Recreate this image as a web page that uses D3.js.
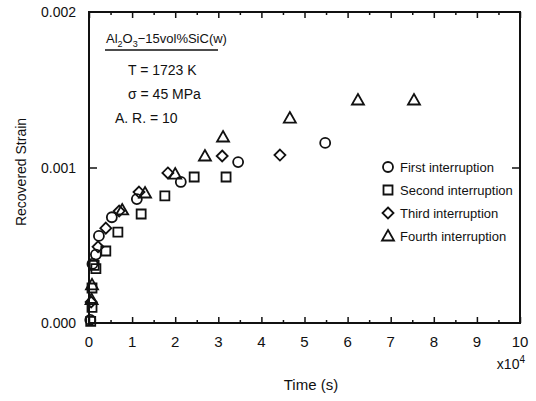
<!DOCTYPE html>
<html>
<head>
<meta charset="utf-8">
<script src="https://cdn.jsdelivr.net/npm/d3@7"></script>
<style>
  body { margin: 0; background: #fff; }
  svg text { font-family: "Liberation Sans", Arial, sans-serif; fill: #111; }
</style>
</head>
<body>
<div class="plot"></div>
<script>
// Data: time in units of 1e4 s, recovered strain
const firstTime   = [0.03, 0.08, 0.16, 0.23, 0.53, 1.11, 2.13, 3.46, 5.48];
const firstStrain = [0.00002, 0.00038, 0.00044, 0.00056, 0.00068, 0.000797, 0.000907, 0.001035, 0.001158];

const secondTime   = [0.04, 0.07, 0.07, 0.12, 0.16, 0.39, 0.67, 1.21, 1.76, 2.44, 3.18];
const secondStrain = [0.00001, 0.0001, 0.000225, 0.00037, 0.00035, 0.000463, 0.000585, 0.000701, 0.000817, 0.000939, 0.000939];

const thirdTime   = [0.05, 0.21, 0.39, 0.70, 1.16, 1.83, 3.09, 4.43];
const thirdStrain = [0.000135, 0.00049, 0.00061, 0.00072, 0.000842, 0.000965, 0.001074, 0.00108];

const fourthTime   = [0.06, 0.07, 0.77, 1.30, 2.00, 2.69, 3.11, 4.66, 6.24, 7.54];
const fourthStrain = [0.00015, 0.000245, 0.000727, 0.000836, 0.000958, 0.001074, 0.001196, 0.001318, 0.001434, 0.001434];

const seriesNames = ["First interruption", "Second interruption", "Third interruption", "Fourth interruption"];
const seriesShapes = ["circle", "square", "diamond", "triangle"];
const xTicks = [0, 1, 2, 3, 4, 5, 6, 7, 8, 9, 10];
const yTicks = [0, 0.001, 0.002];

const seriesData = [
  d3.zip(firstTime, firstStrain),
  d3.zip(secondTime, secondStrain),
  d3.zip(thirdTime, thirdStrain),
  d3.zip(fourthTime, fourthStrain)
];

const margin = {top: 12, right: 16, bottom: 78, left: 89};
const W = 536, H = 401;
const w = W - margin.left - margin.right;
const h = H - margin.top - margin.bottom;

const svg = d3.select(".plot").append("svg")
    .attr("width", W)
    .attr("height", H);
const g = svg.append("g")
    .attr("transform", "translate(" + margin.left + "," + margin.top + ")");

const x = d3.scaleLinear().domain([0, 10]).range([0, w]);
const y = d3.scaleLinear().domain([0, 0.002]).range([h, 0]);

// symbol paths
const shapePath = {
  circle: "M5,0A5,5 0 1,1 -5,0A5,5 0 1,1 5,0Z",
  square: "M-4.5,-4.5H4.5V4.5H-4.5Z",
  diamond: "M0,-5.5L5.5,0L0,5.5L-5.5,0Z",
  triangle: "M0,-6L6,4.5H-6Z"
};

// axes: major ticks at integers, minor at halves
const minorX = d3.range(0.5, 10, 1);
const addTicks = function(axis, pos) {
  const a = g.append("g").attr("transform", pos).call(axis);
  a.select(".domain").remove();
  a.selectAll("line").attr("stroke", "#111").attr("stroke-width", 1.5);
  return a;
};
addTicks(d3.axisBottom(x).tickValues(xTicks).tickSize(-6).tickFormat(""), "translate(0," + h + ")");
addTicks(d3.axisBottom(x).tickValues(minorX).tickSize(-3).tickFormat(""), "translate(0," + h + ")");
addTicks(d3.axisTop(x).tickValues(xTicks).tickSize(-6).tickFormat(""), "translate(0,0)");
addTicks(d3.axisTop(x).tickValues(minorX).tickSize(-3).tickFormat(""), "translate(0,0)");
addTicks(d3.axisLeft(y).tickValues([0.001]).tickSize(-8).tickFormat(""), "translate(0,0)");
addTicks(d3.axisRight(y).tickValues([0.001]).tickSize(-8).tickFormat(""), "translate(" + w + ",0)");

// tick labels
g.selectAll(".xlab").data(xTicks).enter().append("text")
    .attr("x", d => x(d))
    .attr("y", h + 24)
    .attr("text-anchor", "middle")
    .style("font-size", "15px")
    .text(d => d);
g.selectAll(".ylab").data(yTicks).enter().append("text")
    .attr("x", -13)
    .attr("y", d => y(d) + 5)
    .attr("text-anchor", "end")
    .style("font-size", "14px")
    .text(d => d3.format(".3f")(d));

// frame
g.append("rect")
    .attr("width", w).attr("height", h)
    .attr("fill", "none")
    .attr("stroke", "#111")
    .attr("stroke-width", 2);

// axis titles
const x10 = g.append("text")
    .attr("x", w + 5)
    .attr("y", h + 46)
    .attr("text-anchor", "end")
    .style("font-size", "14px");
x10.append("tspan").text("x10");
x10.append("tspan").attr("dy", -6).style("font-size", "10px").text("4");

g.append("text")
    .attr("x", x(5.15))
    .attr("y", h + 67)
    .attr("text-anchor", "middle")
    .style("font-size", "15px")
    .text("Time (s)");

svg.append("text")
    .attr("transform", "translate(26,172) rotate(-90)")
    .attr("text-anchor", "middle")
    .style("font-size", "14px")
    .text("Recovered Strain");

// annotation
const note = g.append("g").attr("transform", "translate(17,0)");
const t1 = note.append("text").attr("y", 31).style("font-size", "13px");
t1.append("tspan").text("Al");
t1.append("tspan").attr("dy", 4).style("font-size", "9px").text("2");
t1.append("tspan").attr("dy", -4).text("O");
t1.append("tspan").attr("dy", 4).style("font-size", "9px").text("3");
t1.append("tspan").attr("dy", -4).text("\u221215vol%SiC(w)");
note.append("line")
    .attr("x1", -1).attr("x2", 112)
    .attr("y1", 38).attr("y2", 38)
    .attr("stroke", "#111").attr("stroke-width", 1.5);
note.append("text").attr("x", 22).attr("y", 63).style("font-size", "14px").text("T = 1723 K");
note.append("text").attr("x", 22).attr("y", 87).style("font-size", "14px").text("\u03c3 = 45 MPa");
note.append("text").attr("x", 9).attr("y", 111).style("font-size", "14px").text("A. R. = 10");

// data points
seriesData.forEach(function(data, i) {
  g.selectAll(".s" + i).data(data).enter().append("path")
      .attr("class", "s" + i)
      .attr("transform", d => "translate(" + x(d[0]) + "," + y(d[1]) + ")")
      .attr("d", shapePath[seriesShapes[i]])
      .attr("fill", "none")
      .attr("stroke", "#111")
      .attr("stroke-width", 1.8);
});

// legend
const legend = g.append("g").attr("transform", "translate(299,155)");
seriesNames.forEach(function(name, i) {
  const row = legend.append("g").attr("transform", "translate(0," + (i * 23) + ")");
  row.append("path")
      .attr("d", shapePath[seriesShapes[i]])
      .attr("fill", "none")
      .attr("stroke", "#111")
      .attr("stroke-width", 1.8);
  row.append("text")
      .attr("x", 12)
      .attr("y", 5)
      .style("font-size", "13px")
      .text(name);
});
</script>
</body>
</html>
